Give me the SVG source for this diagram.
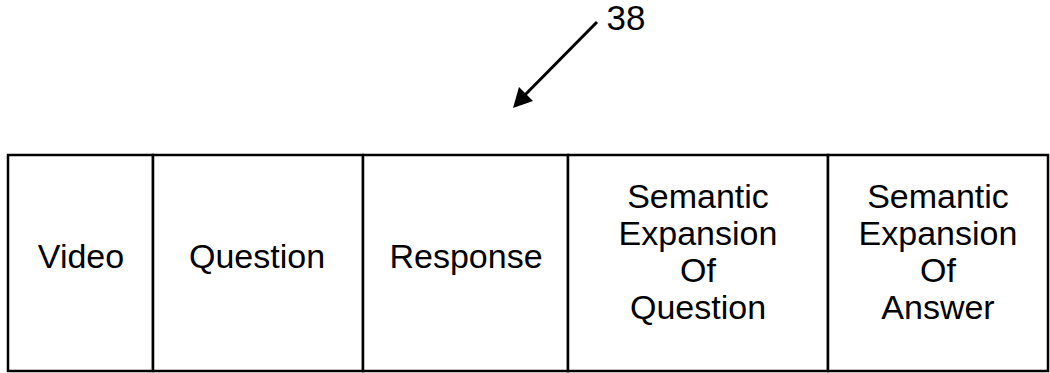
<svg xmlns="http://www.w3.org/2000/svg" width="1050" height="373" viewBox="0 0 1050 373">
<style>
.cell{fill:#fff;stroke:#000;stroke-width:2.5}
.t{font-family:"Liberation Sans",Arial,sans-serif;font-size:34px;fill:#000;text-anchor:middle}
</style>
<rect width="1050" height="373" fill="#fff"/>
<g id="video"><rect class="cell" x="8" y="155" width="145" height="216"/><text class="t" x="81" y="268">Video</text></g>
<g id="question"><rect class="cell" x="153" y="155" width="210" height="216"/><text class="t" x="257" y="268">Question</text></g>
<g id="response"><rect class="cell" x="363" y="155" width="205" height="216"/><text class="t" x="466" y="268">Response</text></g>
<g id="seq"><rect class="cell" x="568" y="155" width="260" height="216"/><text class="t" x="698"><tspan x="698" y="208">Semantic</tspan><tspan x="698" y="245">Expansion</tspan><tspan x="698" y="282">Of</tspan><tspan x="698" y="319">Question</tspan></text></g>
<g id="sea"><rect class="cell" x="828" y="155" width="220" height="216"/><text class="t" x="938"><tspan x="938" y="208">Semantic</tspan><tspan x="938" y="245">Expansion</tspan><tspan x="938" y="282">Of</tspan><tspan x="938" y="319">Answer</tspan></text></g>
<g id="connectors">
<line x1="597" y1="22" x2="518" y2="102" stroke="#000" stroke-width="3"/>
<path d="M513,108 L519,87 L533,101 z" fill="#000"/>
</g>
<g id="label38"><text class="t" x="626" y="30" style="font-size:35px">38</text></g>
</svg>
